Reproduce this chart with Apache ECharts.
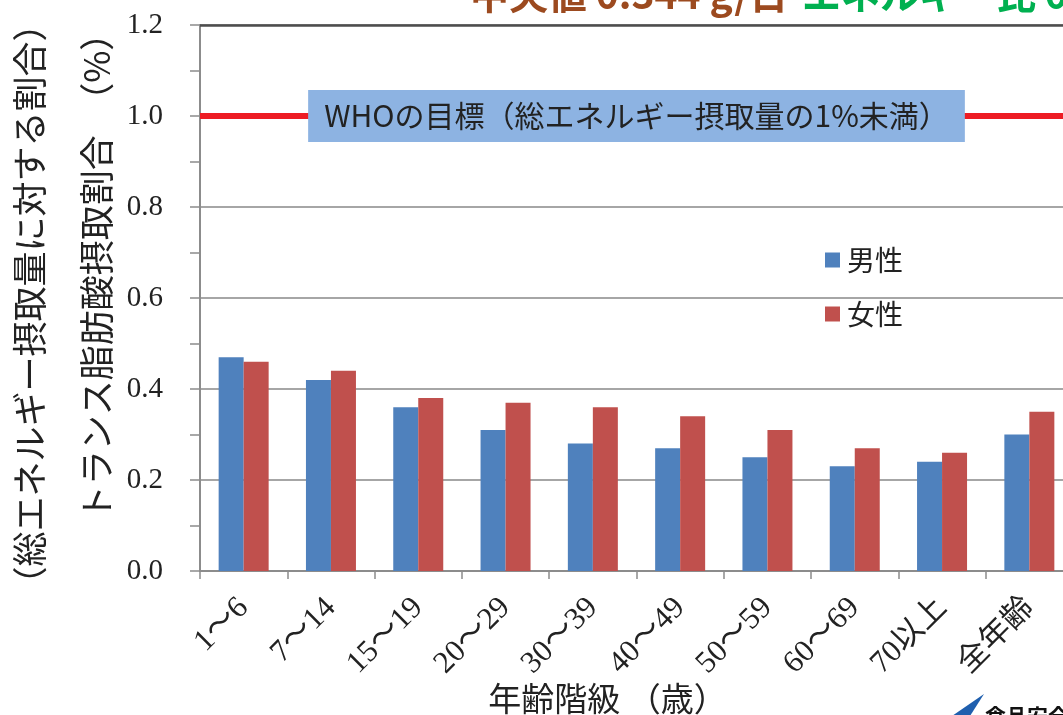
<!DOCTYPE html>
<html>
<head>
<meta charset="utf-8">
<script src="https://cdn.jsdelivr.net/npm/echarts@6/dist/echarts.min.js"></script>
<style>
  html, body { margin: 0; padding: 0; background: #fff; }
  #chart { width: 1063px; height: 715px; }
</style>
</head>
<body>
<div id="chart"></div>
<script>
// 年齢階級
const ageGroups = ['1～6', '7～14', '15～19', '20～29', '30～39', '40～49', '50～59', '60～69', '70以上', '全年齢']
// トランス脂肪酸摂取割合（%）
const maleValues = [0.47, 0.42, 0.36, 0.31, 0.28, 0.27, 0.25, 0.23, 0.24, 0.30]
const femaleValues = [0.46, 0.44, 0.38, 0.37, 0.36, 0.34, 0.31, 0.27, 0.26, 0.35]
const yTicks = [0, 0.2, 0.4, 0.6, 0.8, 1.0, 1.2]
const whoTarget = 1.0

const SANS = '"Noto Sans CJK JP", "Noto Sans", sans-serif'
const SERIF = '"Liberation Serif", "DejaVu Serif", "Noto Sans CJK JP", serif'

const chart = echarts.init(document.getElementById('chart'))

chart.setOption({
  animation: false,
  backgroundColor: '#fff',
  grid: { left: 200, top: 25, width: 873, height: 546, outerBoundsMode: 'none', containLabel: false },
  legend: {
    orient: 'vertical',
    left: 820,
    top: 241,
    itemWidth: 15,
    itemHeight: 15,
    itemGap: 26,
    icon: 'rect',
    textStyle: { fontFamily: SANS, fontSize: 28, color: '#222', padding: [0, 0, 0, 2] },
    data: ['男性', '女性']
  },
  xAxis: {
    type: 'category',
    data: ageGroups,
    name: '年齢階級 （歳）',
    nameLocation: 'middle',
    nameGap: 111,
    nameMoveOverlap: false,
    nameTextStyle: { fontFamily: SANS, fontSize: 33, color: '#222', padding: [0, 58, 0, 0] },
    axisLine: { lineStyle: { color: '#8c8c8c', width: 2 } },
    axisTick: { show: true, length: 8, lineStyle: { color: '#8c8c8c', width: 1.5 } },
    axisLabel: {
      rotate: 45,
      margin: 32,
      fontFamily: SERIF,
      fontSize: 31,
      color: '#222'
    }
  },
  yAxis: {
    type: 'value',
    min: 0,
    max: 1.2,
    interval: 0.2,
    axisLine: { show: true, lineStyle: { color: '#8c8c8c', width: 2 } },
    axisTick: { show: true, length: 10, lineStyle: { color: '#8c8c8c', width: 1.5 } },
    minorTick: { show: true, splitNumber: 2, length: 10, lineStyle: { color: '#8c8c8c', width: 1.5 } },
    splitLine: { show: true, lineStyle: { color: '#a6a6a6', width: 2 } },
    axisLabel: {
      margin: 37,
      fontFamily: SERIF,
      fontSize: 29,
      color: '#222',
      formatter: v => yTicks.includes(Math.round(v * 10) / 10) ? v.toFixed(1) : ''
    }
  },
  series: [
    {
      name: '男性',
      type: 'bar',
      barWidth: 25,
      barGap: '0%',
      itemStyle: { color: '#4f81bd' },
      data: maleValues,
      markLine: {
        silent: true,
        symbol: 'none',
        data: [
          {
            yAxis: whoTarget,
            lineStyle: { color: '#ed1c24', width: 6, type: 'solid' },
            label: {
              show: true,
              position: 'middle',
              formatter: 'WHOの目標（総エネルギー摂取量の1%未満）',
              fontFamily: SANS,
              fontSize: 30,
              color: '#222',
              backgroundColor: '#8db3e2',
              padding: [11, 16, 11, 16],
              distance: -26
            }
          },
          {
            yAxis: 1.2,
            lineStyle: { color: '#4d4d4d', width: 2.5, type: 'solid' },
            label: { show: false }
          }
        ]
      }
    },
    {
      name: '女性',
      type: 'bar',
      barWidth: 25,
      itemStyle: { color: '#c0504d' },
      data: femaleValues
    }
  ],
  graphic: [
    {
      type: 'text',
      x: 30,
      y: 304,
      rotation: Math.PI / 2,
      style: {
        text: '（総エネルギー摂取量に対する割合）',
        fontFamily: SANS,
        fontSize: 35,
        fill: '#222',
        textAlign: 'center',
        textVerticalAlign: 'middle'
      }
    },
    {
      type: 'text',
      x: 97,
      y: 268,
      rotation: Math.PI / 2,
      style: {
        text: 'トランス脂肪酸摂取割合　（%）',
        fontFamily: SANS,
        fontSize: 35,
        fill: '#222',
        textAlign: 'center',
        textVerticalAlign: 'middle'
      }
    },
    // 上端で切れているタイトル
    {
      type: 'text',
      x: 470,
      y: -6,
      style: {
        text: '中央値 0.344 g/日',
        fontFamily: SANS,
        fontWeight: 'bold',
        fontSize: 39,
        fill: '#9c4a1f',
        textAlign: 'left',
        textVerticalAlign: 'middle'
      }
    },
    {
      type: 'text',
      x: 802,
      y: -6,
      style: {
        text: 'エネルギー比 0.31%',
        fontFamily: SANS,
        fontWeight: 'bold',
        fontSize: 39,
        fill: '#00b050',
        textAlign: 'left',
        textVerticalAlign: 'middle'
      }
    },
    // 右下のロゴ（切れている）
    {
      type: 'polygon',
      shape: { points: [[952, 716], [984, 694], [970, 716]] },
      style: { fill: '#1f5fae' }
    },
    {
      type: 'text',
      x: 985,
      y: 716,
      style: {
        text: '食品安全委員会',
        fontFamily: SANS,
        fontWeight: 'bold',
        fontSize: 21,
        fill: '#111',
        textAlign: 'left',
        textVerticalAlign: 'middle'
      }
    }
  ]
})
</script>
</body>
</html>
